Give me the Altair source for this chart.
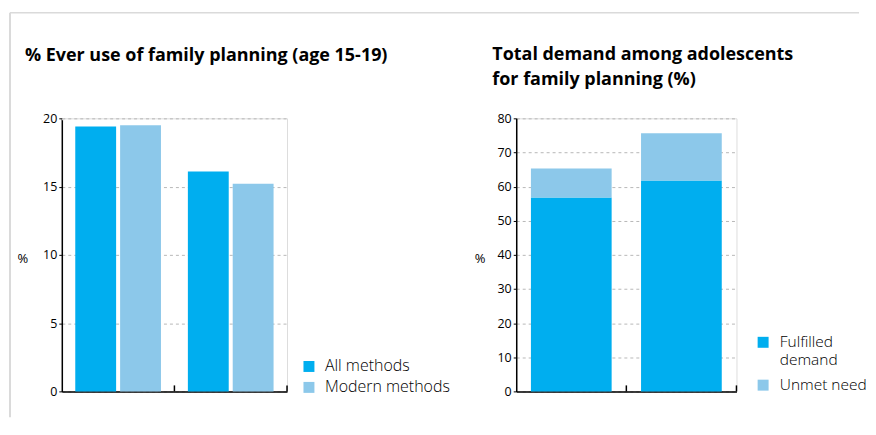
import altair as alt
import pandas as pd

# ---- data ----
groups = ["Survey 1", "Survey 2"]
method_series = ["All methods", "Modern methods"]
all_methods = [19.4, 16.1]
modern_methods = [19.5, 15.2]

demand_series = ["Fulfilled demand", "Unmet need"]
fulfilled = [56.8, 61.8]
unmet = [8.5, 13.8]

left_title = "% Ever use of family planning (age 15-19)"
right_title = ["Total demand among adolescents", "for family planning (%)"]
left_ticks = [0, 5, 10, 15, 20]
right_ticks = [0, 10, 20, 30, 40, 50, 60, 70, 80]

colors = ["#00aeef", "#8cc8ea"]

left_df = pd.DataFrame({
    "group": groups * 2,
    "series": [method_series[0]] * 2 + [method_series[1]] * 2,
    "value": all_methods + modern_methods,
})
right_df = pd.DataFrame({
    "group": groups * 2,
    "series": [demand_series[0]] * 2 + [demand_series[1]] * 2,
    "order": [0, 0, 1, 1],
    "value": fulfilled + unmet,
})
groups_df = pd.DataFrame({"group": groups})
one = pd.DataFrame({"k": [0]})

FONT = "Open Sans"
H = 274
W1 = 226
W2 = 221

def yaxis(vals, tx):
    return alt.Axis(
        values=vals, title="%", titleAngle=0, titleX=tx, titleY=141,
        titleAlign="left", titleBaseline="middle", titleFontWeight="normal",
        titleFontSize=13, titleFont=FONT, titleColor="black",
        labelFont=FONT, labelFontSize=12.5, labelColor="black", labelPadding=2,
        tickSize=3, tickColor="black", domainColor="black", domainWidth=1.5,
        gridColor="#b8b8b8", gridDash=[3, 3], gridWidth=1,
    )

xaxis = alt.Axis(title=None, labels=False, ticks=False, grid=False,
                 domainColor="black", domainWidth=1.5)

def legend(lx, ly, off, rowpad, size, expr=None):
    kw = dict(title=None, orient="none", legendX=lx, legendY=ly,
              symbolType="square", symbolSize=121, symbolStrokeWidth=0,
              labelOffset=off, labelFont=FONT, labelFontSize=size,
              labelFontWeight=300, labelColor="black", padding=0,
              rowPadding=rowpad, labelBaseline="middle")
    if expr:
        kw["labelExpr"] = expr
    return alt.Legend(**kw)

# ---- left chart ----
lx = alt.X("group:N", sort=groups, scale=alt.Scale(paddingInner=0, paddingOuter=0), axis=xaxis)
left_bars = alt.Chart(left_df).mark_bar().encode(
    x=lx,
    xOffset=alt.XOffset("series:N", sort=method_series,
                        scale=alt.Scale(paddingInner=0.089, paddingOuter=0.3)),
    y=alt.Y("value:Q", scale=alt.Scale(domain=[0, 20]), axis=yaxis(left_ticks, -45)),
    color=alt.Color("series:N", sort=method_series,
                    scale=alt.Scale(domain=method_series, range=colors),
                    legend=legend(240, 241, 8, 5, 16)),
)
left_ticks_marks = alt.Chart(groups_df).mark_rule(color="black", strokeWidth=1.5).encode(
    x=alt.X("group:N", sort=groups, bandPosition=1),
    y=alt.value(H - 6), y2=alt.value(H),
)
left = alt.layer(left_bars, left_ticks_marks).properties(
    width=W1, height=H,
    title=alt.TitleParams(left_title, anchor="start", frame="group", dx=-37, offset=48,
                          font=FONT, fontSize=18, fontWeight="bold", color="black"),
)

# ---- right chart ----
rx = alt.X("group:N", sort=groups, scale=alt.Scale(paddingInner=0, paddingOuter=0), axis=xaxis)
right_bars = alt.Chart(right_df).mark_bar(width=alt.RelativeBandSize(0.733)).encode(
    x=rx,
    y=alt.Y("value:Q", stack="zero", scale=alt.Scale(domain=[0, 80]),
            axis=yaxis(right_ticks, -42)),
    order=alt.Order("order:Q"),
    color=alt.Color("series:N", sort=demand_series,
                    scale=alt.Scale(domain=demand_series, range=colors),
                    legend=legend(240, 217, 9, 9, 15.5,
                                  "datum.label == 'Fulfilled demand' ? ['Fulfilled', 'demand'] : datum.label")),
)
right_ticks_marks = alt.Chart(groups_df).mark_rule(color="black", strokeWidth=1.5).encode(
    x=alt.X("group:N", sort=groups, bandPosition=1),
    y=alt.value(H - 6), y2=alt.value(H),
)
right = alt.layer(right_bars, right_ticks_marks).properties(
    width=W2, height=H,
    title=alt.TitleParams(right_title, anchor="start", frame="group", dx=-24, offset=23,
                          lineHeight=26,
                          font=FONT, fontSize=18, fontWeight="bold", color="black"),
)

# ---- frame decoration ----
border_v = alt.Chart(one).mark_rule(color="#dadada", strokeWidth=2).encode(
    x=alt.value(-52), y=alt.value(-106), y2=alt.value(300))
border_h = alt.Chart(one).mark_rule(color="#dadada", strokeWidth=1.5).encode(
    x=alt.value(-52), x2=alt.value(800), y=alt.value(-106))
frame = alt.layer(border_v, border_h).properties(width=1, height=1)

top = alt.hconcat(left, right, spacing=230, bounds="flush").resolve_scale(
    color="independent").resolve_legend(color="independent")

chart = alt.vconcat(top, frame, spacing=0, bounds="flush").properties(
    padding={"left": 0, "top": 2, "right": 0, "bottom": 0},
).configure_view(strokeWidth=0).configure(font=FONT)

chart.save("out.html", embed_options={"renderer": "svg", "actions": False})
